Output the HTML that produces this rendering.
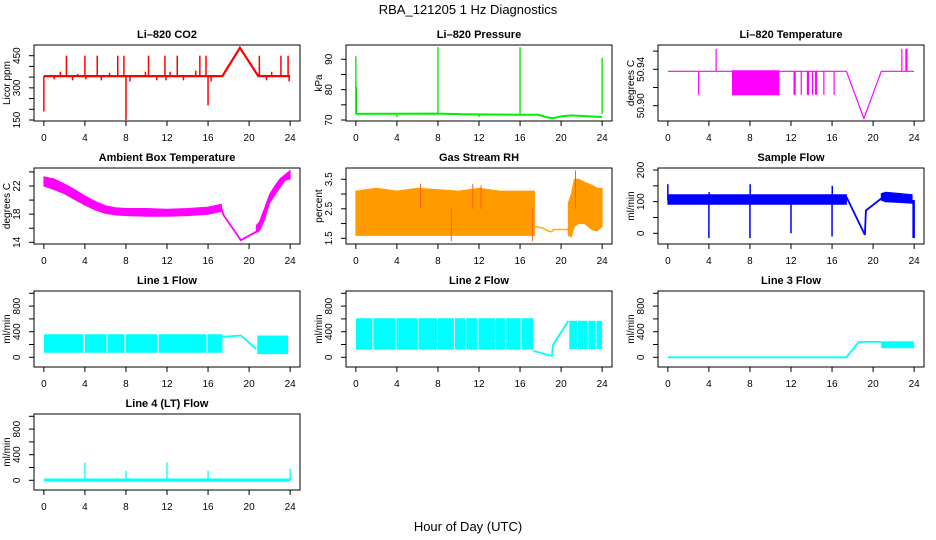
<!DOCTYPE html>
<html><head><meta charset="utf-8">
<style>
html,body{margin:0;padding:0;background:#fff;}
svg{display:block;font-family:"Liberation Sans",Arial,sans-serif;}
</style></head>
<body>
<svg id="chart" width="936" height="540" viewBox="0 0 936 540" xmlns="http://www.w3.org/2000/svg">
<text x="468" y="14" text-anchor="middle" font-size="13">RBA_121205  1 Hz Diagnostics</text>
<text x="468" y="531" text-anchor="middle" font-size="13">Hour of Day (UTC)</text>
</svg>
<script>
// ---- data arrays ----
const xTicks = [0,4,8,12,16,20,24];
// CO2
const co2T = [0,17.4,19.1,20.9,24];
const co2V = [355,355,487,355,355];
const co2SpikeT = [2.2,4,5.2,7.2,7.8,10.2,11.8,13,15.2,15.8,21,23.1,23.8,1.6,3.3,6.4,9.9,12.3,14.8,22.2,0,8,16,2.8,4.1,5.6,8.4,11,11.9,13.6,16.3,21.7,23.9,1];
const co2SpikeV = [450,450,450,450,450,450,450,450,450,450,450,450,450,375,365,370,375,375,380,375,190,150,218,335,340,335,330,335,335,335,330,335,330,340];
// Pressure
const presT = [0,8,10.5,16,17.8,18.5,19.2,20,21,22.3,24];
const presV = [72,72.1,71.9,71.7,71.7,71.0,70.6,71.2,71.5,71.3,71.0];
const presSpikeT = [0,0.05,8,16,24,4,12];
const presSpikeV = [91,81,94,94,90.5,71,71];
// Li-820 temperature
const ltT = [0,17.4,19.1,20.8,24];
const ltV = [50.9378,50.9378,50.886,50.9378,50.9378];
const ltBlock = [6.3,10.8,50.912,50.9385];
const ltSpikeT = [3.0,12.3,12.4,13.0,13.6,13.7,14.1,14.4,14.5,15.2,16.2,4.7,22.8,23.2,23.3];
const ltSpikeV = [50.912,50.912,50.912,50.912,50.912,50.912,50.912,50.912,50.912,50.912,50.912,50.9625,50.9625,50.9625,50.9625];
// Ambient box temperature
const ambT1 = [0,1,2,3,4,5,6,7,8,10,12,14,16,17.3];
const ambU1 = [23.3,23.0,22.3,21.5,20.6,19.8,19.2,18.9,18.8,18.8,18.7,18.8,19.0,19.4];
const ambL1 = [22.0,21.5,20.9,20.1,19.3,18.6,18.1,17.9,17.8,17.7,17.7,17.8,18.0,18.4];
const ambLineT = [17.3,17.5,19.2,20.7];
const ambLineV = [18.8,17.9,14.3,15.5];
const ambT2 = [20.7,21,21.5,22,22.5,23,23.5,24];
const ambU2 = [16.4,16.9,18.8,20.8,22,23,23.6,24.2];
const ambL2 = [15.4,15.6,17.2,19.6,20.7,21.8,22.8,23.0];
// Gas stream RH
const rhT1 = [0,2,4,6,8,10,12,14,16,17.4];
const rhU1 = [3.1,3.2,3.1,3.2,3.15,3.1,3.2,3.1,3.1,3.1];
const rhL1 = [1.6,1.6,1.6,1.6,1.6,1.6,1.6,1.6,1.6,1.6];
const rhLineT = [17.4,18.2,18.7,19.1,19.3,20.7];
const rhLineV = [1.9,1.85,1.75,1.72,1.8,1.8];
const rhT2 = [20.7,21,21.3,21.7,22.3,23,23.5,24];
const rhU2 = [2.7,3.0,3.5,3.5,3.4,3.3,3.2,3.2];
const rhL2 = [1.6,1.55,1.9,2.0,2.0,1.8,1.75,1.9];
const rhSpikeT = [21.4,6.3,11.4,9.3,17.2,12.2];
const rhSpikeV = [3.8,3.35,3.35,1.4,1.4,3.3];
// Sample flow
const sfT1 = [0,17.4];
const sfU1 = [122,122];
const sfL1 = [92,92];
const sfLineT = [17.4,19.2,19.3,20.8];
const sfLineV = [115,-5,72,110];
const sfT2 = [20.8,21.2,23.8];
const sfU2 = [125,130,122];
const sfL2 = [105,100,95];
const sfSpikeT = [4,8,12,16,23.9,24,0,8.02,16.02,4.02];
const sfSpikeV = [-15,-15,0,-10,-15,-15,155,155,150,130];
// Line 1 flow
const l1Seg = [[0,3.85],[4.0,6.1],[6.2,7.85],[8.0,11.05],[11.2,15.85],[16.0,17.4]];
const l1Up = 360, l1Lo = 70;
const l1LineT = [17.4,19.2,20.7];
const l1LineV = [320,340,130];
const l1Seg2 = [[20.8,23.8]];
const l1Up2 = 340, l1Lo2 = 50;
// Line 2 flow
const l2Seg = [[0,1.6],[1.7,3.85],[3.95,6.0],[6.1,7.9],[8.0,9.55],[9.65,10.65],[10.75,11.85],[11.95,13.55],[13.65,14.55],[14.65,16.05],[16.15,17.3]];
const l2Up = 610, l2Lo = 120;
const l2LineT = [17.3,19.1,19.2,20.7];
const l2LineV = [100,20,190,570];
const l2Seg2 = [[20.8,21.55],[21.65,22.55],[22.65,23.35],[23.45,24]];
const l2Up2 = 570, l2Lo2 = 130;
// Line 3 flow
const l3LineT = [0,17.4,18.6,20.8];
const l3LineV = [0,0,240,240];
const l3Seg2 = [[20.8,24]];
const l3Up2 = 250, l3Lo2 = 140;
// Line 4 flow
const l4LineT = [0,24];
const l4LineV = [5,5];
const l4SpikeT = [4,8,12,16,24];
const l4SpikeV = [280,150,280,150,180];

// ---- helpers ----
const NS = "http://www.w3.org/2000/svg";
const svg = document.getElementById('chart');
const colX = [34,346,658], rowY = [45,168,291,414], BW = 266, BH = 76;
function mk(tag, attrs, parent){
  const e = document.createElementNS(NS, tag);
  for (const k in attrs) e.setAttribute(k, attrs[k]);
  (parent||svg).appendChild(e);
  return e;
}
function makePanel(name, title, ylab, col, row, v0, p0, v1, p1, yTicks, yLabels){
  const bx = colX[col], by = rowY[row];
  const g = mk('g', {});
  
  
  const sx = t => bx + (t + 0.96) / 25.92 * BW;
  const k = (p1 - p0) / (v1 - v0);
  const sy = v => by + p0 + (v - v0) * k;
  const box = mk('rect', {x:bx, y:by, width:BW, height:BH, fill:'none', stroke:'#000', 'stroke-width':1}, g);
  
  
  const tt = mk('text', {x:bx+BW/2, y:by-7, 'text-anchor':'middle', 'font-size':11, 'font-weight':'bold'}, g);
  
  
  tt.textContent = title;
  const xa = mk('g', {}, g);
  
  
  mk('line', {x1:sx(0), x2:sx(24), y1:by+BH, y2:by+BH, stroke:'#000'}, xa);
  xTicks.forEach(t => {
    mk('line', {x1:sx(t), x2:sx(t), y1:by+BH, y2:by+BH+5, stroke:'#000'}, xa);
    const tx = mk('text', {x:sx(t), y:by+BH+20, 'text-anchor':'middle', 'font-size':10}, xa);
    
    
    tx.textContent = t;
  });
  const ya = mk('g', {}, g);
  
  
  mk('line', {x1:bx, x2:bx, y1:sy(yTicks[0]), y2:sy(yTicks[yTicks.length-1]), stroke:'#000'}, ya);
  yTicks.forEach(v => mk('line', {x1:bx-5, x2:bx, y1:sy(v), y2:sy(v), stroke:'#000'}, ya));
  yLabels.forEach(v => {
    const y = sy(v), x = bx - 14;
    const tx = mk('text', {x:x, y:y, 'text-anchor':'middle', 'font-size':10, transform:`rotate(-90 ${x} ${y})`}, ya);
    
    
    tx.textContent = v;
  });
  const yx = bx - 24, yy = by + BH/2;
  const yt = mk('text', {x:yx, y:yy, 'text-anchor':'middle', 'font-size':10, transform:`rotate(-90 ${yx} ${yy})`}, ya);
  
  
  yt.textContent = ylab;
  const clip = 'clip-' + name;
  const cp = mk('clipPath', {id:clip}, g);
  mk('rect', {x:bx, y:by, width:BW, height:BH}, cp);
  const d = mk('g', {'clip-path':`url(#${clip})`}, g);
  
  
  return {sx, sy, g:d};
}
function line(P, T, V, color, w){
  const pts = T.map((t,i)=>P.sx(t).toFixed(1)+','+P.sy(V[i]).toFixed(1)).join(' ');
  const e = mk('polyline', {points:pts, fill:'none', stroke:color, 'stroke-width':w||1.5}, P.g);
  
  
}
function band(P, T, U, L, color, sw){
  const pts = T.map((t,i)=>P.sx(t).toFixed(1)+','+P.sy(U[i]).toFixed(1))
    .concat(T.map((t,i)=>P.sx(t).toFixed(1)+','+P.sy(L[i]).toFixed(1)).reverse()).join(' ');
  const e = mk('polygon', {points:pts, fill:color, stroke:color, 'stroke-width':sw===undefined?1:sw}, P.g);
  
  
}
function segs(P, S, up, lo, color){
  S.forEach(s => band(P, [s[0], s[1]], [up, up], [lo, lo], color, 0));
}
function spikes(P, T, V, base, color, w){
  T.forEach((t,i)=>{
    const e = mk('line', {x1:P.sx(t), x2:P.sx(t), y1:P.sy(base), y2:P.sy(V[i]), stroke:color, 'stroke-width':w||1.2}, P.g);
    
    
  });
}

let P = makePanel('co2-panel','Li\u2013820 CO2','Licor ppm',0,0,150,75,450,10.7,[150,200,250,300,350,400,450],[150,300,450]);
spikes(P, co2SpikeT, co2SpikeV, 355, '#ff0000', 1.5);
line(P, co2T, co2V, '#ff0000', 2.2);
P = makePanel('pressure-panel','Li\u2013820 Pressure','kPa',1,0,70,75,90,14.3,[70,75,80,85,90],[70,80,90]);
spikes(P, presSpikeT, presSpikeV, 72, '#00dd00', 1.3);
line(P, presT, presV, '#00ee00', 2);
P = makePanel('licor-temp-panel','Li\u2013820 Temperature','degrees C',2,0,50.90,60.7,50.94,24.3,[50.90,50.92,50.94,50.96],['50.90','50.94']);
band(P, [ltBlock[0], ltBlock[1]], [ltBlock[3], ltBlock[3]], [ltBlock[2], ltBlock[2]], '#ff00ff');
spikes(P, ltSpikeT, ltSpikeV, 50.9378, '#ff00ff', 1.2);
line(P, ltT, ltV, '#ff00ff', 1.2);
P = makePanel('ambient-temp-panel','Ambient Box Temperature','degrees C',0,1,14,74.3,22,18,[14,16,18,20,22,24],[14,18,22]);
band(P, ambT1, ambU1, ambL1, '#ff00ff');
line(P, ambLineT, ambLineV, '#ff00ff', 1.8);
band(P, ambT2, ambU2, ambL2, '#ff00ff');
P = makePanel('gas-rh-panel','Gas Stream RH','percent',1,1,1.5,70.3,3.5,11.3,[1.5,2,2.5,3,3.5],[1.5,2.5,3.5]);
band(P, rhT1, rhU1, rhL1, '#ff9a00');
band(P, rhT2, rhU2, rhL2, '#ff9a00');
spikes(P, rhSpikeT, rhSpikeV, 2.5, '#ff6000', 1);
line(P, rhLineT, rhLineV, '#ffb000', 1.5);
P = makePanel('sample-flow-panel','Sample Flow','ml/min',2,1,0,65.3,200,2,[0,50,100,150,200],[0,100,200]);
band(P, sfT1, sfU1, sfL1, '#0000ff');
band(P, sfT2, sfU2, sfL2, '#0000ff');
spikes(P, sfSpikeT, sfSpikeV, 105, '#0000ff', 1.5);
line(P, sfLineT, sfLineV, '#0000ff', 1.8);
P = makePanel('line1-flow-panel','Line 1 Flow','ml/min',0,2,0,66.3,400,40.7,[0,200,400,600,800,1000],[0,400,800]);
segs(P, l1Seg, l1Up, l1Lo, '#00ffff');
line(P, l1LineT, l1LineV, '#00ffff', 1.8);
segs(P, l1Seg2, l1Up2, l1Lo2, '#00ffff');
P = makePanel('line2-flow-panel','Line 2 Flow','ml/min',1,2,0,66.3,400,40.7,[0,200,400,600,800,1000],[0,400,800]);
segs(P, l2Seg, l2Up, l2Lo, '#00ffff');
line(P, l2LineT, l2LineV, '#00ffff', 1.8);
segs(P, l2Seg2, l2Up2, l2Lo2, '#00ffff');
P = makePanel('line3-flow-panel','Line 3 Flow','ml/min',2,2,0,66.3,400,40.7,[0,200,400,600,800,1000],[0,400,800]);
line(P, l3LineT, l3LineV, '#00ffff', 1.8);
segs(P, l3Seg2, l3Up2, l3Lo2, '#00ffff');
P = makePanel('line4-flow-panel','Line 4 (LT) Flow','ml/min',0,3,0,66.3,400,40.7,[0,200,400,600,800,1000],[0,400,800]);
line(P, l4LineT, l4LineV, '#00ffff', 3);
spikes(P, l4SpikeT, l4SpikeV, 0, '#00ffff', 1.3);
</script>
</body></html>
